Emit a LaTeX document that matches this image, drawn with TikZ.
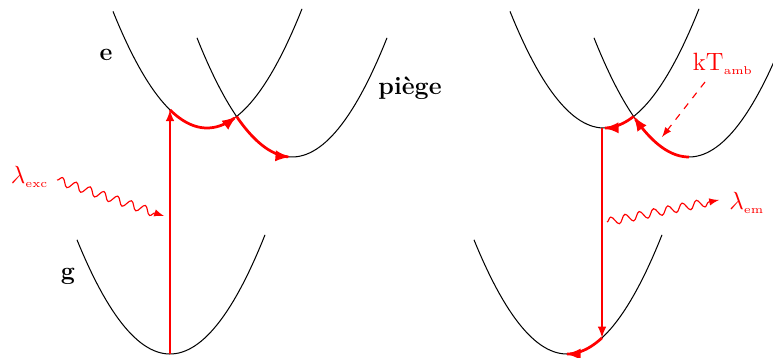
\documentclass[tikz,border=0pt]{standalone}
\usetikzlibrary{decorations.pathmorphing}
\begin{document}
\begin{tikzpicture}[x=0.44pt, y=-0.44pt, >=latex,
    declare function={pot(\x,\c,\b)=\b-0.0132*(\x-\c)^2;}]
    \tikzstyle{curve} = [line width=0.45pt, black]
    \tikzstyle{jump} = [red, line width=0.7pt, ->]
    \tikzstyle{relax} = [red, line width=1.2pt, ->, samples=30]
    \tikzstyle{wave} = [red, line width=0.5pt, ->, decorate,
        decoration={snake, amplitude=1.8pt, segment length=6.4pt, post length=4pt}]
    \tikzstyle{label} = [font=\fontsize{11}{13}\selectfont]
    \clip (0,0) rectangle (773,358);

    % Absorption side
    \draw [curve] plot[domain=113:302, samples=60] (\x,{pot(\x,207,128)});
    \draw [curve] plot[domain=197:387, samples=60] (\x,{pot(\x,292,157)});
    \draw [curve] plot[domain=77:265, samples=60] (\x,{pot(\x,170,354)});

    \node [label] (e) at (106,55) {\textbf{e}};
    \node [label] (g) at (68,276) {\textbf{g}};
    \node [label] (piege) at (410,88) {\textbf{pi\`ege}};

    \coordinate (gmin) at (170,354);
    \coordinate (eabs) at (170,{pot(170,207,128)});
    \draw [jump] (gmin) -- (eabs);
    \draw [relax] plot[domain=170:236.6] (\x,{pot(\x,207,128)});
    \draw [relax] plot[domain=236.6:290] (\x,{pot(\x,292,157)});

    \node [label, red, anchor=east, inner sep=0pt] (lexc) at (49,177) {$\lambda_{\scriptscriptstyle\mathrm{exc}}$};
    \coordinate (photon) at (57,180);
    \coordinate (hit) at (164,216);
    \draw [wave] (photon) -- (hit);

    % Emission side
    \draw [curve] plot[domain=510:699, samples=60] (\x,{pot(\x,604,128)});
    \draw [curve] plot[domain=594:784, samples=60] (\x,{pot(\x,689,157)});
    \draw [curve] plot[domain=474:662, samples=60] (\x,{pot(\x,567,354)});

    \draw [relax] plot[domain=689:633.6] (\x,{pot(\x,689,157)});
    \draw [relax] plot[domain=633.6:604] (\x,{pot(\x,604,128)});

    \coordinate (etop) at (602,{pot(602,604,128)});
    \coordinate (gbot) at (602,{pot(602,567,354)});
    \draw [jump] (etop) -- (gbot);
    \draw [relax] plot[domain=602:566] (\x,{pot(\x,567,354)});

    \node [label, red] (kt) at (723,64) {kT$_{\scriptscriptstyle\mathrm{amb}}$};
    \coordinate (ktstart) at (705,82);
    \coordinate (ktend) at (662,137);
    \draw [red, line width=0.5pt, dashed, ->] (ktstart) -- (ktend);

    \coordinate (emit) at (607,222);
    \coordinate (away) at (719,200);
    \node [label, red, anchor=west, inner sep=0pt] (lem) at (729,203) {$\lambda_{\scriptscriptstyle\mathrm{em}}$};
    \draw [wave] (emit) -- (away);
\end{tikzpicture}
\end{document}
